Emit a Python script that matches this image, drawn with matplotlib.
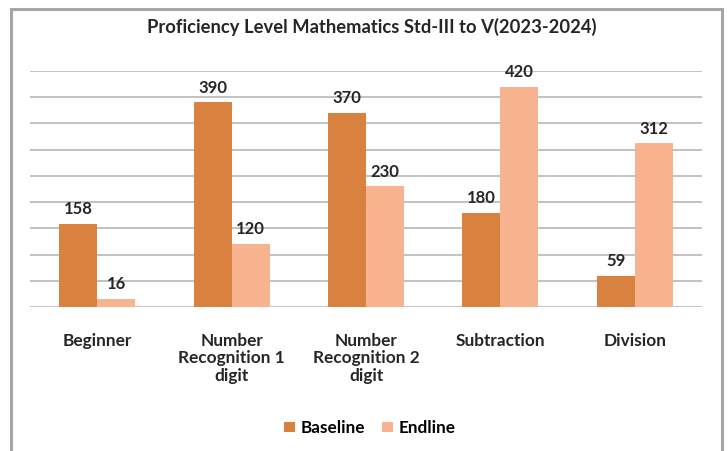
import numpy as np
import matplotlib.pyplot as plt
from matplotlib.patches import Rectangle

categories = ["Beginner", "Number\nRecognition 1\ndigit", "Number\nRecognition 2\ndigit",
              "Subtraction", "Division"]
baseline = [158, 390, 370, 180, 59]
endline = [16, 120, 230, 420, 312]

plt.rcParams['font.family'] = ['Lato', 'DejaVu Sans']

fig = plt.figure(figsize=(7.28, 4.51), dpi=100)
ax = fig.add_axes([30/728, 1 - 307/451, 672/728, (307 - 71)/451])

x = np.arange(len(categories))
w = 0.283
b1 = ax.bar(x - w/2, baseline, w, color='#D9823F', label='Baseline', zorder=3)
b2 = ax.bar(x + w/2, endline, w, color='#F8B38F', label='Endline', zorder=3)

for bars, vals in ((b1, baseline), (b2, endline)):
    for r, v in zip(bars, vals):
        ax.text(r.get_x() + r.get_width()/2, v + 13, str(v), ha='center', va='bottom',
                fontsize=12, fontweight='bold', color='#262626', zorder=4)

ax.set_xlim(-0.5, 4.5)
ax.set_ylim(0, 450)
ax.set_yticks(np.arange(0, 451, 50))
ax.yaxis.grid(True, color='#BDBDBD', linewidth=1.3, zorder=0)
ax.tick_params(left=False, labelleft=False, bottom=False)
ax.set_xticks(x)
ax.set_xticklabels(categories, fontsize=12.4, fontweight='bold', color='#262626',
                   linespacing=1.12, va='top')
ax.tick_params(axis='x', pad=15)
for s in ax.spines.values():
    s.set_visible(False)

fig.text(372/728, 1 - 27/451, "Proficiency Level Mathematics Std-III to V(2023-2024)",
         ha='center', va='center', fontsize=13.2, fontweight='bold', color='#262626')

fig.legend(handles=[b1, b2], loc='center', bbox_to_anchor=(370/728, 1 - 428/451),
           ncol=2, frameon=False, prop={'weight': 'bold', 'size': 12.3},
           handlelength=0.6, handleheight=0.6, columnspacing=1.0, handletextpad=0.35)

fig.patches.append(Rectangle((11/728, -0.05), (722 - 11)/728, 1.05 - 9.5/451,
                             transform=fig.transFigure, fill=False,
                             edgecolor='#A6A6A6', linewidth=2.2))

fig.savefig('out.png', dpi=100)
